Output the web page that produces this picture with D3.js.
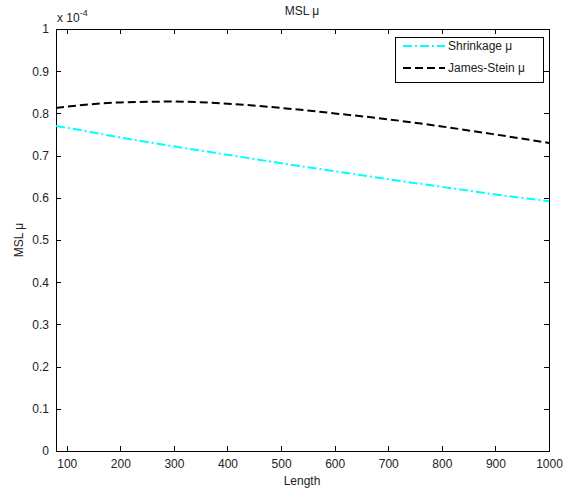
<!DOCTYPE html>
<html><head><meta charset="utf-8">
<script src="https://cdn.jsdelivr.net/npm/d3@7"></script>
<style>body{margin:0;background:#fff}svg text{font-family:"Liberation Sans",Arial,sans-serif;}</style>
</head><body>
<svg id="c" width="563" height="493"></svg>
<script>
const lengths = [80,100,200,300,400,500,600,700,800,900,1000];
const shrinkage = [0.770,0.766,0.743,0.722,0.702,0.682,0.663,0.644,0.626,0.608,0.592];
const jamesStein = [0.813,0.816,0.826,0.828,0.823,0.813,0.800,0.786,0.769,0.750,0.730];
const xTicks = [100,200,300,400,500,600,700,800,900,1000];
const yTicks = [0,0.1,0.2,0.3,0.4,0.5,0.6,0.7,0.8,0.9,1];
const seriesNames = ["Shrinkage \u03bc","James-Stein \u03bc"];

const L=56,R=549,T=29,B=451;
const svg=d3.select("#c");
const x=d3.scaleLinear().domain([80,1000]).range([L,R]);
const y=d3.scaleLinear().domain([0,1]).range([B,T]);
const fs=12;

svg.append("rect").attr("x",L).attr("y",T).attr("width",R-L).attr("height",B-T)
  .attr("fill","#fff").attr("stroke","#000").attr("stroke-width",1).attr("shape-rendering","crispEdges");

const fmtY=d=>d===0?"0":d===1?"1":d3.format(".1f")(d);
const gb=svg.append("g").attr("transform",`translate(0,${B})`)
  .call(d3.axisBottom(x).tickValues(xTicks).tickSizeInner(-5).tickSizeOuter(0).tickPadding(8).tickFormat(d3.format("d")));
const gt=svg.append("g").attr("transform",`translate(0,${T})`)
  .call(d3.axisTop(x).tickValues(xTicks).tickSizeInner(-5).tickSizeOuter(0).tickFormat(""));
const gl=svg.append("g").attr("transform",`translate(${L},0)`)
  .call(d3.axisLeft(y).tickValues(yTicks).tickSizeInner(-5).tickSizeOuter(0).tickPadding(7).tickFormat(fmtY));
const gr=svg.append("g").attr("transform",`translate(${R},0)`)
  .call(d3.axisRight(y).tickValues(yTicks).tickSizeInner(-5).tickSizeOuter(0).tickFormat(""));
[gb,gt,gl,gr].forEach(g=>{
  g.select(".domain").remove();
  g.selectAll("line").attr("stroke","#000").attr("shape-rendering","crispEdges");
  g.selectAll("text").attr("font-size",fs).attr("fill","#222").attr("font-family","Liberation Sans, Arial, sans-serif");
});
gb.selectAll("text").attr("dy","0.71em");

const line=(vals)=>d3.line().x((d,i)=>x(lengths[i])).y(d=>y(d)).curve(d3.curveMonotoneX)(vals);
svg.append("path").attr("d",line(shrinkage)).attr("fill","none").attr("stroke","#00ffff")
  .attr("stroke-width",2).attr("stroke-dasharray","9,3,2,3");
svg.append("path").attr("d",line(jamesStein)).attr("fill","none").attr("stroke","#000")
  .attr("stroke-width",2).attr("stroke-dasharray","8,4");

svg.append("text").attr("x",302).attr("y",15).attr("text-anchor","middle").attr("font-size",fs).attr("fill","#222").text("MSL \u03bc");
svg.append("text").attr("x",302).attr("y",485).attr("text-anchor","middle").attr("font-size",fs).attr("fill","#222").text("Length");
svg.append("text").attr("transform","translate(23,240) rotate(-90)").attr("text-anchor","middle").attr("font-size",fs).attr("fill","#222").text("MSL \u03bc");
const ex=svg.append("text").attr("x",57).attr("y",22).attr("font-size",fs).attr("fill","#222");
ex.append("tspan").text("x 10");
ex.append("tspan").attr("dy",-6).attr("font-size",9).text("-4");

const lg=svg.append("g");
lg.append("rect").attr("x",395).attr("y",37).attr("width",148).attr("height",45)
  .attr("fill","#fff").attr("stroke","#000").attr("shape-rendering","crispEdges");
const styles=[{c:"#00ffff",d:"9,3,2,3"},{c:"#000",d:"8,4"}];
seriesNames.forEach((n,i)=>{
  const yy=46+i*22;
  lg.append("line").attr("x1",403).attr("x2",445).attr("y1",yy).attr("y2",yy)
    .attr("stroke",styles[i].c).attr("stroke-width",2).attr("stroke-dasharray",styles[i].d);
  lg.append("text").attr("x",448).attr("y",yy+4).attr("font-size",fs).attr("fill","#222").text(n);
});
</script>
</body></html>
